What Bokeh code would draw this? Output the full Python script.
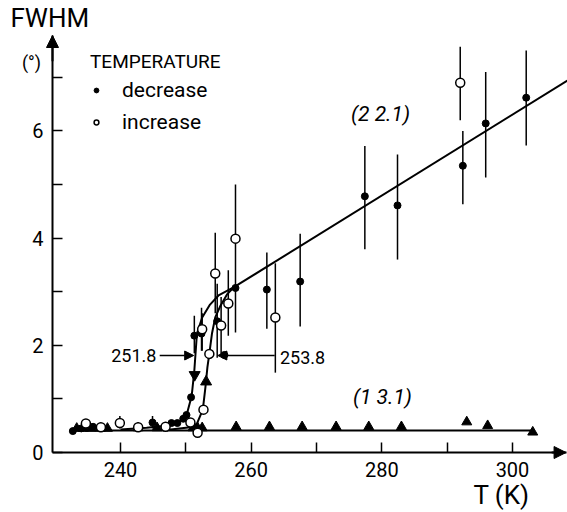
from bokeh.plotting import figure
from bokeh.models import (FixedTicker, Label, Arrow, NormalHead, Legend, LegendItem, Range1d)
from bokeh.embed import file_html
from bokeh.resources import INLINE

# ---------------- data ----------------
# (2 2.1) reflection, temperature decreasing (filled circles)
dec_T  = [232.7, 234.0, 235.8, 244.9, 247.8, 248.7, 249.6, 250.1, 250.8, 251.3, 252.4,
          254.8, 255.9, 257.6, 262.4, 267.5, 277.4, 282.4, 292.4, 295.9, 302.1]
dec_y  = [0.40, 0.45, 0.48, 0.56, 0.55, 0.55, 0.63, 0.70, 1.03, 2.18, 2.22,
          2.45, 1.82, 3.07, 3.04, 3.19, 4.78, 4.61, 5.35, 6.14, 6.62]
dec_lo = [0.40, 0.45, 0.48, 0.45, 0.55, 0.55, 0.63, 0.70, 1.03, 1.85, 1.90,
          1.77, 1.82, 3.07, 2.31, 2.35, 3.79, 3.60, 4.63, 5.13, 5.73]
dec_hi = [0.40, 0.45, 0.48, 0.68, 0.55, 0.55, 0.63, 0.70, 1.03, 2.55, 2.70,
          3.15, 1.82, 3.07, 3.73, 4.08, 5.72, 5.56, 6.00, 7.10, 7.50]

# (2 2.1) reflection, temperature increasing (open circles)
inc_T  = [234.7, 237.0, 239.9, 242.7, 246.9, 250.7, 251.8, 252.7, 253.6, 252.5,
          254.5, 255.4, 256.5, 257.6, 263.7, 292.0]
inc_y  = [0.54, 0.47, 0.55, 0.47, 0.48, 0.56, 0.37, 0.80, 1.84, 2.30,
          3.34, 2.37, 2.78, 3.99, 2.52, 6.90]
inc_lo = [0.54, 0.47, 0.45, 0.47, 0.48, 0.56, 0.37, 0.80, 1.84, 1.90,
          2.60, 1.80, 2.18, 2.24, 1.49, 6.20]
inc_hi = [0.54, 0.47, 0.68, 0.47, 0.48, 0.56, 0.37, 0.80, 1.84, 2.60,
          4.10, 2.90, 3.40, 5.00, 3.53, 7.57]

# (1 3.1) reflection (triangles)
tri_T = [233.3, 234.3, 235.4, 236.9, 238.0, 242.7, 245.6, 251.1, 251.8, 252.5,
         257.7, 262.8, 267.8, 273.0, 278.0, 283.0, 293.0, 296.2, 303.1]
tri_y = [0.45, 0.45, 0.45, 0.45, 0.45, 0.46, 0.46, 0.46, 0.46, 0.46,
         0.48, 0.48, 0.48, 0.48, 0.48, 0.48, 0.57, 0.50, 0.38]

# drawn guide curves
base_T = [232.5, 303.0]
base_y = [0.41, 0.41]
fit_T = [257.3, 308.4]
fit_y = [3.08, 6.94]
dec_curve_T = [240.0, 244.0, 247.0, 248.9, 250.1, 250.9, 251.3, 251.7, 252.5, 253.7, 255.0, 257.3]
dec_curve_y = [0.43, 0.46, 0.50, 0.56, 0.69, 1.06, 1.53, 2.22, 2.52, 2.76, 2.93, 3.08]
inc_curve_T = [247.0, 250.7, 251.7, 252.6, 253.0, 253.3, 253.6, 254.0, 254.5, 255.3, 256.3, 257.5]
inc_curve_y = [0.42, 0.47, 0.54, 0.80, 1.22, 1.59, 1.85, 2.22, 2.52, 2.74, 2.95, 3.10]

x_ticks = [240, 260, 280, 300]
x_minor = [250, 270, 290]
y_ticks = [0, 2, 4, 6]
y_minor = [1, 3, 5, 7]

# axis extents (where the drawn axes start / end)
AX_T0, AX_T1 = 229.59, 308.2
AX_Y0, AX_Y1 = 0.0, 7.78
FONT = "Roboto"

p = figure(width=567, height=512, output_backend="svg", toolbar_location=None,
           x_range=Range1d(221.63, 308.42), y_range=Range1d(-1.119, 8.433),
           min_border=0, min_border_left=0, min_border_right=0,
           min_border_top=0, min_border_bottom=0)
p.outline_line_color = None
p.xgrid.visible = False
p.ygrid.visible = False

for ax, tk, mn, so, loc, bnd in [
        (p.xaxis[0], x_ticks, x_minor, 9, 0.0, (AX_T0, AX_T1)),
        (p.yaxis[0], y_ticks, y_minor, 9, AX_T0, (AX_Y0, AX_Y1))]:
    ax.fixed_location = loc
    ax.bounds = bnd
    ax.ticker = FixedTicker(ticks=tk, minor_ticks=mn)
    ax.major_tick_in = 10
    ax.major_tick_out = 0
    ax.minor_tick_in = 10
    ax.minor_tick_out = 0
    ax.axis_line_width = 2
    ax.major_tick_line_width = 1.5
    ax.minor_tick_line_width = 1.5
    ax.major_label_text_font = FONT
    ax.major_label_text_font_size = "20px"
    ax.major_label_text_color = "black"
    ax.major_label_standoff = so

# guide lines
p.line(base_T, base_y, line_color="black", line_width=2)
p.line(fit_T, fit_y, line_color="black", line_width=2)
p.line(dec_curve_T, dec_curve_y, line_color="black", line_width=2)
p.line(inc_curve_T, inc_curve_y, line_color="black", line_width=2)

# error bars
p.segment(dec_T, dec_lo, dec_T, dec_hi, line_color="black", line_width=1.5)
p.segment(inc_T, inc_lo, inc_T, inc_hi, line_color="black", line_width=1.5)

# points
tri_r = p.scatter(tri_T, tri_y, marker="triangle", size=10, fill_color="black", line_color="black")
dec_r = p.scatter(dec_T, dec_y, marker="circle", size=7, fill_color="black", line_color="black")
inc_r = p.scatter(inc_T, inc_y, marker="circle", size=9, fill_color="white", line_color="black",
                  line_width=1.5)

# arrowheads on the transition curves
p.scatter([251.35], [1.45], marker="inverted_triangle", size=11, fill_color="black", line_color="black")
p.scatter([253.1], [1.32], marker="triangle", size=11, fill_color="black", line_color="black")

# transition temperature pointers
p.add_layout(Arrow(end=NormalHead(size=9, fill_color="black", line_color="black"),
                   x_start=246.0, y_start=1.81, x_end=251.2, y_end=1.81,
                   line_color="black", line_width=1.5))
p.add_layout(Arrow(end=NormalHead(size=9, fill_color="black", line_color="black"),
                   x_start=263.6, y_start=1.81, x_end=254.9, y_end=1.81,
                   line_color="black", line_width=1.5))


def lab(x, y, text, size, align="center", style="normal"):
    p.add_layout(Label(x=x, y=y, text=text, text_align=align, text_baseline="middle",
                       text_font=FONT, text_font_size=size, text_font_style=style,
                       text_color="black"))


lab(245.5, 1.81, "251.8", "18px", "right")
lab(264.4, 1.77, "253.8", "18px", "left")

# reflection labels
lab(279.8, 6.32, "(2 2.1)", "21px", style="italic")
lab(280.1, 1.03, "(1 3.1)", "21px", style="italic")

# axis titles
lab(223.16, 8.10, "FWHM", "26px", "left")
lab(226.38, 7.28, "(°)", "18px")
lab(298.32, -0.80, "T (K)", "26px")

# axis arrows
p.add_layout(Arrow(end=NormalHead(size=12, fill_color="black", line_color="black"),
                   x_start=AX_T0, y_start=7.3, x_end=AX_T0, y_end=AX_Y1,
                   line_color="black", line_width=2))
p.add_layout(Arrow(end=NormalHead(size=12, fill_color="black", line_color="black"),
                   x_start=306.0, y_start=0.0, x_end=AX_T1, y_end=0.0,
                   line_color="black", line_width=2))

# legend
legend = Legend(items=[LegendItem(label="decrease", renderers=[dec_r]),
                       LegendItem(label="increase", renderers=[inc_r])],
                title="TEMPERATURE", location=(86, 374),
                title_text_font=FONT, title_text_font_size="19px", title_text_font_style="normal",
                title_text_color="black",
                label_text_font=FONT, label_text_font_size="21px", label_text_color="black",
                glyph_width=12, glyph_height=22, label_height=22, label_standoff=20,
                spacing=8, padding=4, margin=0, title_standoff=5,
                border_line_alpha=0, background_fill_alpha=0)
p.add_layout(legend)

open("out.html", "w").write(file_html(p, INLINE))
